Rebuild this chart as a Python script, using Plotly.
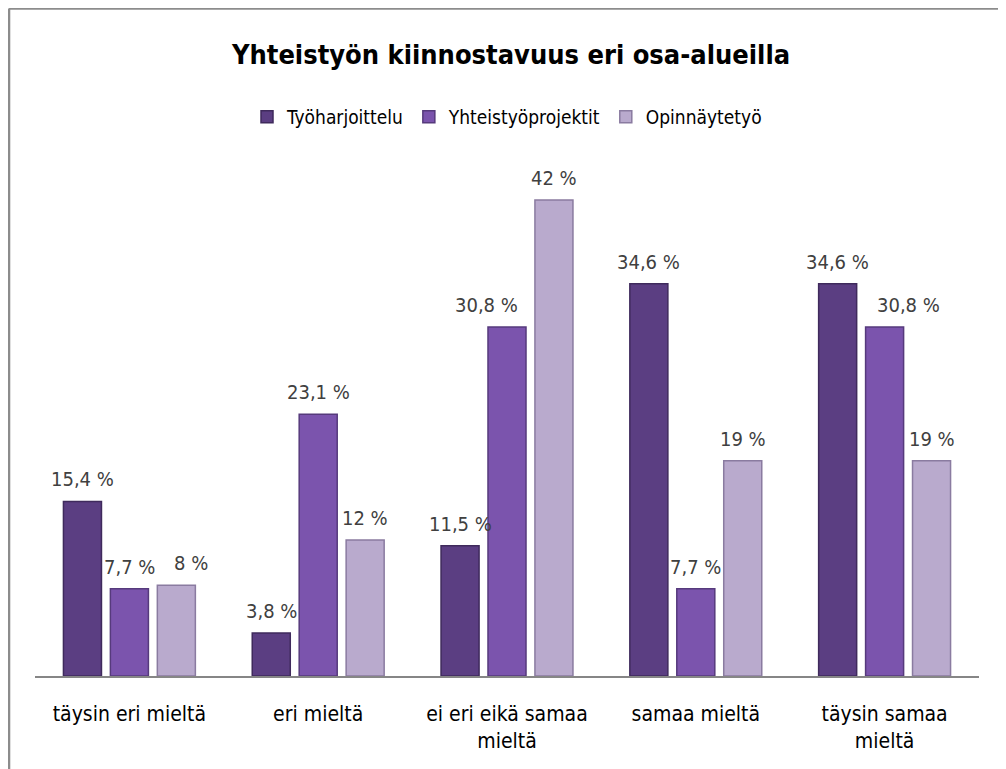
import plotly.graph_objects as go

categories = ["täysin eri mieltä", "eri mieltä", "ei eri eikä samaa<br>mieltä", "samaa mieltä", "täysin samaa<br>mieltä"]
series_names = ["Työharjoittelu", "Yhteistyöprojektit", "Opinnäytetyö"]
tyoharjoittelu = [15.4, 3.8, 11.5, 34.6, 34.6]
yhteistyoprojektit = [7.7, 23.1, 30.8, 7.7, 30.8]
opinnaytetyo = [8, 12, 42, 19, 19]
labels_tyo = ["15,4 %", "3,8 %", "11,5 %", "34,6 %", "34,6 %"]
labels_yht = ["7,7 %", "23,1 %", "30,8 %", "7,7 %", "30,8 %"]
labels_opi = ["8 %", "12 %", "42 %", "19 %", "19 %"]

colors = ["#5b3e82", "#7b54ad", "#b9aacd"]
edges = ["#3f2a5c", "#563a7c", "#8a7ba0"]
FONT = "DejaVu Sans Condensed, Liberation Sans Narrow, Arial Narrow, sans-serif"

# figure is placed at an 8px page offset; layout numbers are in figure pixels
W, H = 1006, 769
L, R, T, B = 26.5, 34.5, 158, 101
PW, PH = W - L - R, H - T - B
BARGAP, GROUPGAP = 0.254, 0.19
slot = PW / len(categories) * (1 - BARGAP) / 3
# hand-placed label nudges in the original (series index, category index) -> px
label_nudge = {(1, 2): -21, (1, 4): 24, (2, 0): 15}

fig = go.Figure()
all_vals = [tyoharjoittelu, yhteistyoprojektit, opinnaytetyo]
all_labs = [labels_tyo, labels_yht, labels_opi]
for si, (name, vals, labs, c, e) in enumerate(zip(series_names, all_vals, all_labs, colors, edges)):
    fig.add_trace(go.Bar(
        x=categories, y=vals, name=name,
        marker=dict(color=c, line=dict(color=e, width=1.5)),
    ))
    for ci, (cat, v, lab) in enumerate(zip(categories, vals, labs)):
        fig.add_annotation(
            x=cat, y=v, xref="x", yref="y", text=lab, showarrow=False,
            xanchor="center", yanchor="bottom", yshift=8,
            xshift=(si - 1) * slot + label_nudge.get((si, ci), 0),
            font=dict(size=20, color="#404040", family=FONT),
        )

fig.update_layout(
    width=W, height=H,
    margin=dict(l=L, r=R, t=T, b=B, autoexpand=False),
    paper_bgcolor="white", plot_bgcolor="white",
    barmode="group", bargap=BARGAP, bargroupgap=GROUPGAP,
    title=dict(text="<b>Yhteistyön kiinnostavuus eri osa-alueilla</b>",
               x=0.5, xanchor="center", y=1 - 47 / H, yanchor="middle",
               font=dict(size=27, color="#000000", family=FONT)),
    legend=dict(orientation="h", x=0.5, xanchor="center", y=(668 - 109) / PH, yanchor="middle",
                font=dict(size=19, color="#000000", family=FONT),
                itemwidth=30, traceorder="normal"),
    showlegend=True,
    xaxis=dict(showgrid=False, showline=True, linecolor="#868686", linewidth=1.5,
               ticks="", automargin=False, ticklabelstandoff=18,
               tickfont=dict(size=21, color="#000000", family=FONT)),
    yaxis=dict(range=[0, 45], visible=False, showgrid=False, zeroline=False, automargin=False),
)

# chart frame (left and top edges visible)
fx = (0.5 - L) / PW
fy = (H - B - 0.5) / PH
fig.add_shape(type="line", xref="paper", yref="paper",
              x0=fx, x1=fx, y0=fy, y1=-B / PH,
              line=dict(color="#8c8c8c", width=2.5))
fig.add_shape(type="line", xref="paper", yref="paper",
              x0=fx, x1=(W - L) / PW, y0=fy, y1=fy,
              line=dict(color="#8c8c8c", width=2.5))

fig.write_html("out.html")
